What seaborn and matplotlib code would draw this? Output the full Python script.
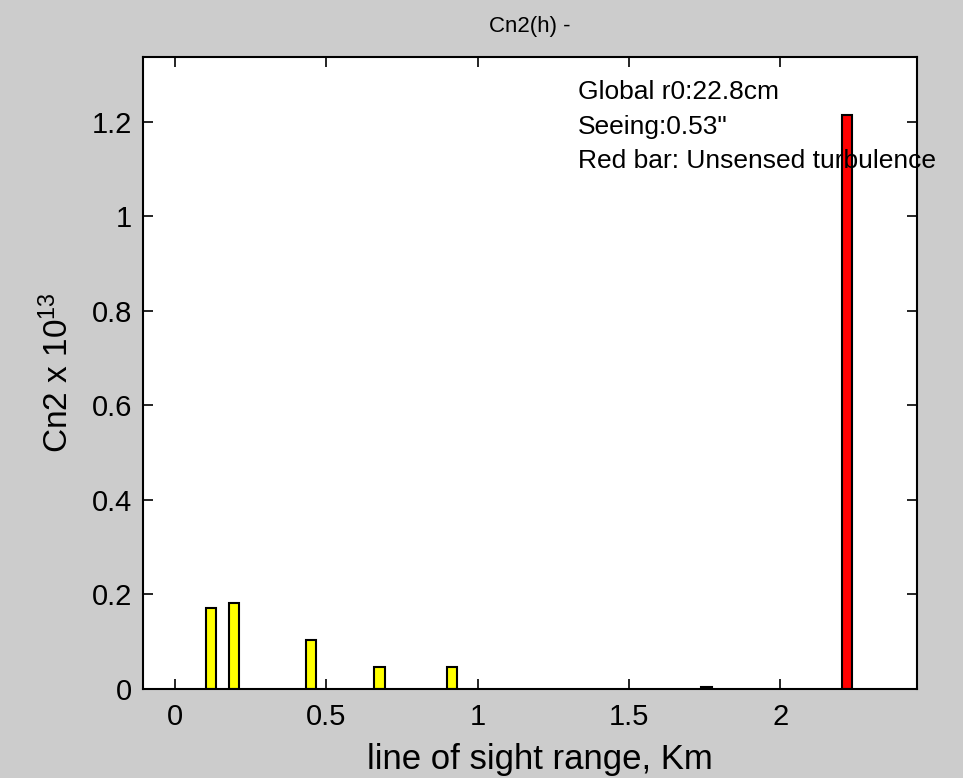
import pandas as pd
import numpy as np
import seaborn as sns
import matplotlib.pyplot as plt
from matplotlib.ticker import FormatStrFormatter

# Data
range_km = [0.12, 0.195, 0.45, 0.675, 0.915, 1.755, 2.22]
cn2_x1e13 = [0.171, 0.182, 0.104, 0.046, 0.046, 0.004, 1.215]
bar_kind = ['sensed', 'sensed', 'sensed', 'sensed', 'sensed', 'sensed', 'unsensed']
x_ticks = [0, 0.5, 1, 1.5, 2]
y_ticks = [0, 0.2, 0.4, 0.6, 0.8, 1.0, 1.2]
notes = ['Global r0:22.8cm', 'Seeing:0.53"', 'Red bar: Unsensed turbulence']

df = pd.DataFrame({'range': range_km, 'cn2': cn2_x1e13, 'kind': bar_kind})

sns.set_style('white')
plt.rcParams['font.family'] = ['Liberation Sans', 'DejaVu Sans']
plt.rcParams['mathtext.fontset'] = 'custom'
plt.rcParams['mathtext.rm'] = 'Liberation Sans'
plt.rcParams['mathtext.default'] = 'regular'
plt.rcParams['text.color'] = 'black'
plt.rcParams['axes.labelcolor'] = 'black'

fig = plt.figure(figsize=(9.63, 7.78), dpi=100, facecolor='#cccccc')
ax = fig.add_axes([0.1485, 0.1144, 0.8035, 0.8123])

sns.barplot(data=df, x='range', y='cn2', hue='kind', native_scale=True, dodge=False,
            palette={'sensed': '#ffff00', 'unsensed': '#ff0000'}, saturation=1,
            width=0.47, edgecolor='black', linewidth=1.5, legend=False, ax=ax)

ax.set_xlim(-0.105, 2.45)
ax.set_ylim(0, 1.337)
ax.set_xticks(x_ticks)
ax.set_yticks(y_ticks)
ax.xaxis.set_major_formatter(FormatStrFormatter('%g'))
ax.yaxis.set_major_formatter(FormatStrFormatter('%g'))
ax.tick_params(direction='in', length=7, width=1.2, bottom=True, left=True,
               top=True, right=True, labelsize=21, colors='black')
ax.tick_params(axis='x', pad=10)
ax.tick_params(axis='y', pad=8)

for s in ax.spines.values():
    s.set_visible(True)
    s.set_color('black')
    s.set_linewidth(1.5)

ax.set_xlabel('line of sight range, Km', fontsize=25, labelpad=7)
ax.xaxis.set_label_coords(0.513, -0.085)
ax.set_ylabel('Cn2 x 10$^{13}$', fontsize=24, labelpad=12)
ax.set_title('Cn2(h) -', fontsize=16, pad=18)

for i, t in enumerate(notes):
    ax.text(1.332, 1.263 - i * 0.073, t, fontsize=19, va='center', ha='left')

plt.savefig('out.png', dpi=100, facecolor=fig.get_facecolor())
